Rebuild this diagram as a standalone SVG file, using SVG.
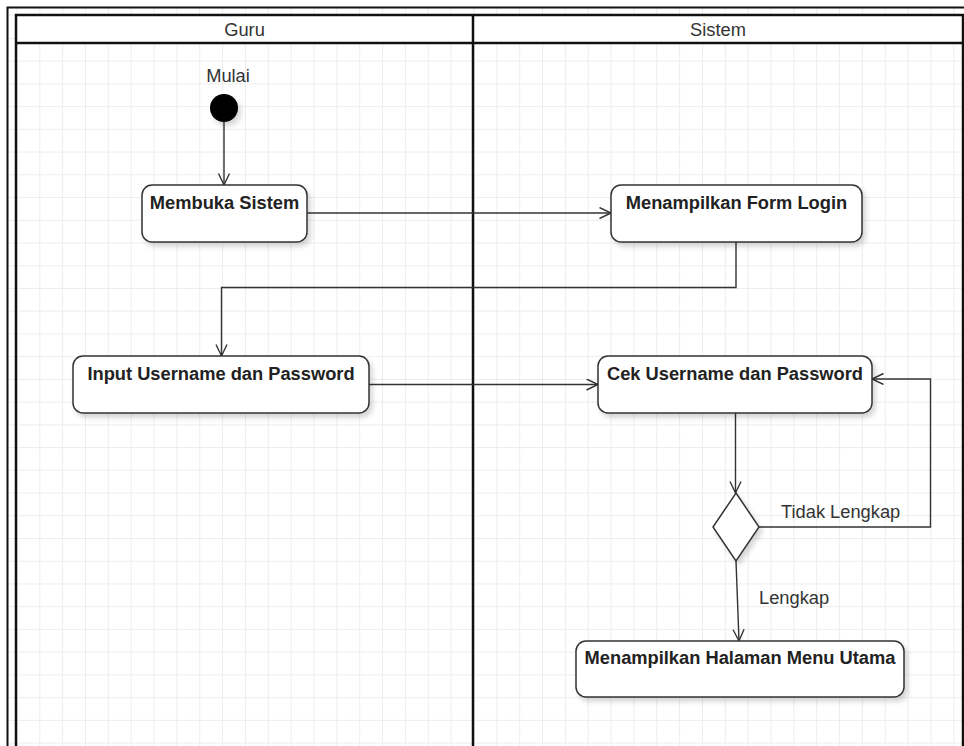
<svg xmlns="http://www.w3.org/2000/svg" width="964" height="746" viewBox="0 0 964 746">
<defs>
  <pattern id="grid" patternUnits="userSpaceOnUse" x="16.45" y="15.2" width="22.85" height="22.73">
    <path d="M22.85 0.5 H0.5 V22.73" fill="none" stroke="#ededed" stroke-width="1"/>
  </pattern>
  <filter id="shadow" x="-20%" y="-20%" width="150%" height="160%">
    <feDropShadow dx="3" dy="4" stdDeviation="2.5" flood-color="#000" flood-opacity="0.16"/>
  </filter>
  <marker id="arrow" markerUnits="userSpaceOnUse" markerWidth="14" markerHeight="14" refX="12" refY="6" orient="auto">
    <path d="M0.5 0.5 L12 6 L0.5 11.5" fill="none" stroke="#333" stroke-width="1.4"/>
  </marker>
</defs>
<style>
  text { font-family: "Liberation Sans", Arial, sans-serif; fill: #333; font-size: 18.3px; }
  .title { text-anchor: middle; }
  .bold { font-weight: bold; text-anchor: middle; fill: #222; }
  .box { fill: #fff; stroke: #333; stroke-width: 1.5; filter: url(#shadow); }
  .edge { fill: none; stroke: #333; stroke-width: 1.4; marker-end: url(#arrow); }
  .frame { fill: none; stroke: #111; }
</style>
<rect x="0" y="0" width="964" height="746" fill="#fff"/>
<rect x="8" y="8" width="956" height="738" fill="url(#grid)"/>

<g id="pool">
  <path class="frame" d="M7.5 746 V7.5 H964" stroke-width="2"/>
  <rect x="16" y="15" width="947" height="28" fill="#fff"/>
  <rect class="frame" x="16" y="15" width="947" height="745" stroke-width="2.5"/>
  <line class="frame" x1="16" y1="43" x2="963" y2="43" stroke-width="2.5"/>
  <line class="frame" x1="473" y1="15" x2="473" y2="746" stroke-width="2.5"/>
  <text class="title" x="244.5" y="36">Guru</text>
  <text class="title" x="718" y="36">Sistem</text>
</g>

<g id="connectors">
  <path class="edge" d="M224 122 V185"/>
  <path class="edge" d="M307 213 H611"/>
  <path class="edge" d="M736 242 V287.5 H221.5 V356"/>
  <path class="edge" d="M369 384.5 H598"/>
  <path class="edge" d="M735.5 413 V493"/>
  <path class="edge" d="M759 527 H930.5 V379 H872"/>
  <path class="edge" d="M736 561 L739 641"/>
  <text x="781" y="518">Tidak Lengkap</text>
  <text x="759" y="604">Lengkap</text>
</g>

<g id="start">
  <text class="title" x="228" y="82">Mulai</text>
  <circle cx="224" cy="108" r="14" fill="#000" filter="url(#shadow)"/>
</g>

<g id="membuka-sistem">
  <rect class="box" x="142" y="185" width="165" height="57" rx="10"/>
  <text class="bold" x="224.5" y="209">Membuka Sistem</text>
</g>

<g id="form-login">
  <rect class="box" x="611" y="185" width="251" height="57" rx="10"/>
  <text class="bold" x="736.5" y="209">Menampilkan Form Login</text>
</g>

<g id="input-username">
  <rect class="box" x="73" y="356" width="296" height="57" rx="10"/>
  <text class="bold" x="221" y="380">Input Username dan Password</text>
</g>

<g id="cek-username">
  <rect class="box" x="598" y="356" width="274" height="57" rx="10"/>
  <text class="bold" x="735" y="380">Cek Username dan Password</text>
</g>

<g id="decision">
  <polygon class="box" points="736,493 759,527 736,561 713,527"/>
</g>

<g id="menu-utama">
  <rect class="box" x="576" y="641" width="328" height="56" rx="10"/>
  <text class="bold" x="740" y="664">Menampilkan Halaman Menu Utama</text>
</g>
</svg>
